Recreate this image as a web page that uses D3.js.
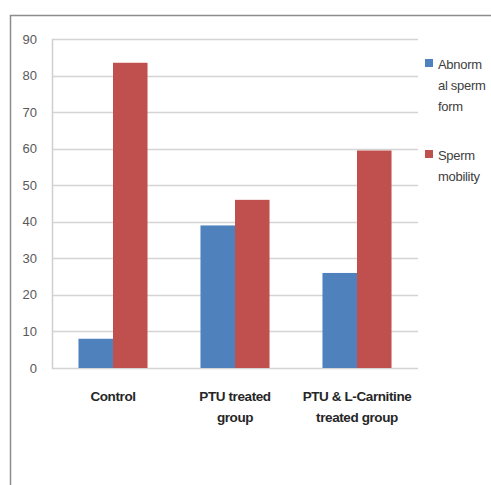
<!DOCTYPE html>
<html>
<head>
<meta charset="utf-8">
<script src="https://cdn.jsdelivr.net/npm/d3@7"></script>
<style>
  html, body { margin: 0; padding: 0; background: #fff; }
  svg { display: block; }
</style>
</head>
<body>
<svg id="chart" width="491" height="485"></svg>
<script>
// Chart data
const categories = [["Control"], ["PTU treated", "group"], ["PTU & L-Carnitine", "treated group"]];
const seriesNames = [["Abnorm", "al sperm", "form"], ["Sperm", "mobility"]];
const abnormalForm = [8, 39, 26];
const spermMobility = [83.5, 46, 59.5];
const yTicks = [0, 10, 20, 30, 40, 50, 60, 70, 80, 90];
const colors = ["#4F81BD", "#C0504D"];

const series = [abnormalForm, spermMobility];
const svg = d3.select("#chart");
const font = "Liberation Sans, Arial, sans-serif";

// Outer chart frame (top and left edges visible)
svg.append("path")
  .attr("d", "M10.5,485 V15.5 H491")
  .attr("fill", "none")
  .attr("stroke", "#8c8c8c")
  .attr("stroke-width", 1.5);

const plot = { left: 52, right: 418, top: 39, bottom: 368 };

const x0 = d3.scaleBand()
  .domain(d3.range(categories.length))
  .range([plot.left, plot.right])
  .paddingInner(0.434)
  .paddingOuter(0.217);

const x1 = d3.scaleBand()
  .domain(d3.range(series.length))
  .range([0, x0.bandwidth()]);

const y = d3.scaleLinear().domain([0, 90]).range([plot.bottom, plot.top]);

// Gridlines
svg.append("g")
  .selectAll("line")
  .data(yTicks)
  .join("line")
  .attr("x1", plot.left)
  .attr("x2", plot.right)
  .attr("y1", d => Math.round(y(d)) + 0.5)
  .attr("y2", d => Math.round(y(d)) + 0.5)
  .attr("stroke", "#d4d4d4")
  .attr("stroke-width", 1.5);

// Vertical axis line
svg.append("line")
  .attr("x1", plot.left + 0.5).attr("x2", plot.left + 0.5)
  .attr("y1", plot.top).attr("y2", plot.bottom + 1)
  .attr("stroke", "#cfcfcf").attr("stroke-width", 1.5);

// Y tick labels
svg.append("g")
  .selectAll("text")
  .data(yTicks)
  .join("text")
  .attr("x", 37)
  .attr("y", d => y(d))
  .attr("dy", "0.35em")
  .attr("text-anchor", "end")
  .attr("font-family", font)
  .attr("font-size", 13)
  .attr("fill", "#595959")
  .text(d => d);

// Bars
const groups = svg.append("g")
  .selectAll("g")
  .data(categories.map((c, i) => i))
  .join("g")
  .attr("transform", i => `translate(${x0(i)},0)`);

groups.selectAll("rect")
  .data(i => series.map((s, k) => ({ k, v: s[i] })))
  .join("rect")
  .attr("x", d => x1(d.k))
  .attr("width", x1.bandwidth())
  .attr("y", d => y(d.v))
  .attr("height", d => y(0) - y(d.v))
  .attr("fill", d => colors[d.k]);

// Category labels
svg.append("g")
  .selectAll("text")
  .data(categories)
  .join("text")
  .attr("x", (d, i) => x0(i) + x0.bandwidth() / 2)
  .attr("y", 401)
  .attr("text-anchor", "middle")
  .attr("font-family", font)
  .attr("font-weight", "bold")
  .attr("font-size", 13.5)
  .attr("letter-spacing", -0.4)
  .attr("fill", "#262626")
  .selectAll("tspan")
  .data(d => d)
  .join("tspan")
  .attr("x", function () { return this.parentNode.getAttribute("x"); })
  .attr("dy", (d, j) => j === 0 ? 0 : 21)
  .text(d => d);

// Legend
const legendY = [63, 154];
const legend = svg.append("g")
  .selectAll("g")
  .data(seriesNames)
  .join("g")
  .attr("transform", (d, i) => `translate(425,${legendY[i]})`);

legend.append("rect")
  .attr("x", 0).attr("y", -4)
  .attr("width", 8).attr("height", 8)
  .attr("fill", (d, i) => colors[i]);

legend.append("text")
  .attr("font-family", font)
  .attr("font-size", 13)
  .attr("letter-spacing", -0.3)
  .attr("fill", "#404040")
  .selectAll("tspan")
  .data(d => d)
  .join("tspan")
  .attr("x", 13)
  .attr("y", (d, j) => 1 + j * 21)
  .attr("dy", "0.35em")
  .text(d => d);
</script>
</body>
</html>
